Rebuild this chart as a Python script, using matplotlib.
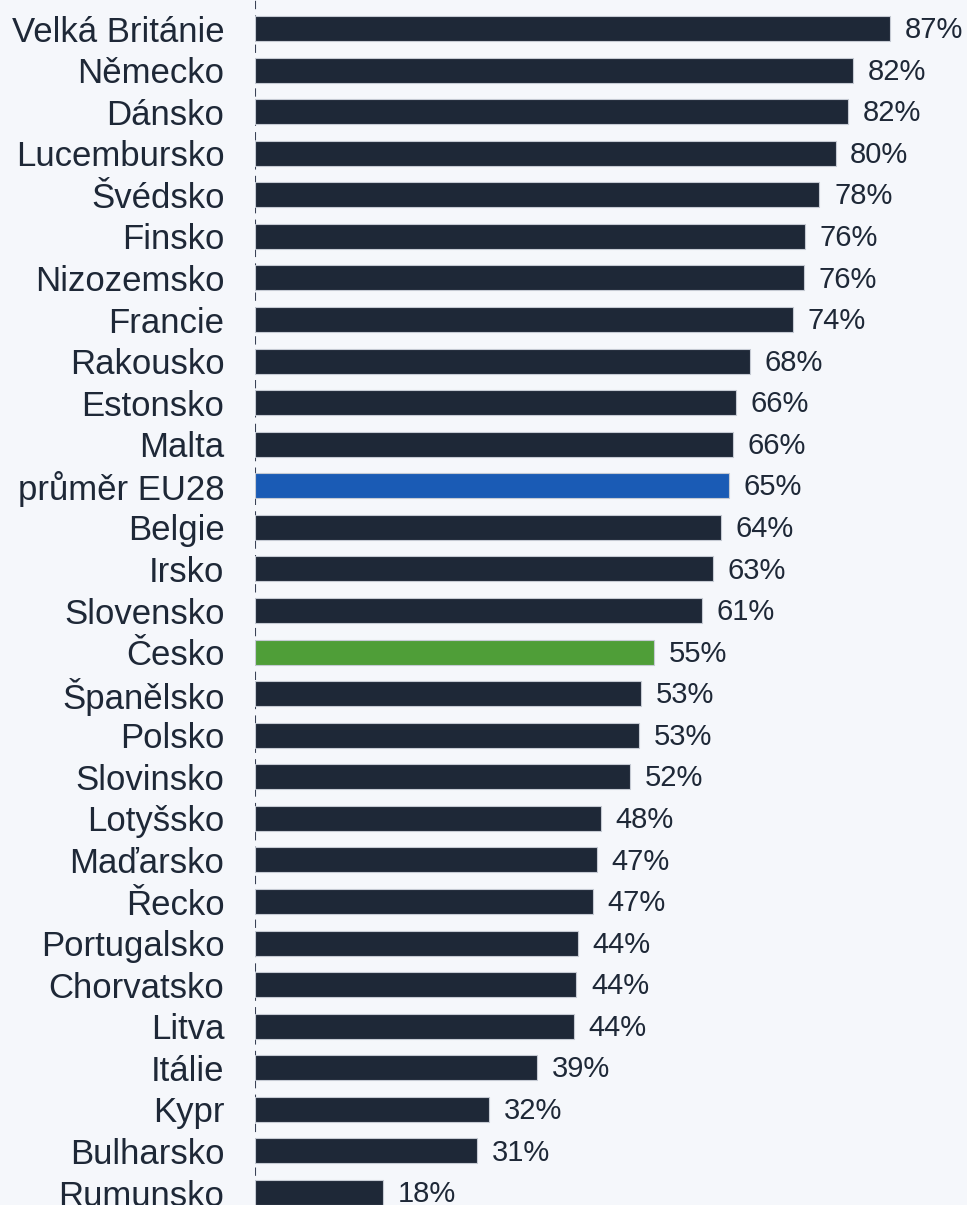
import matplotlib.pyplot as plt

plt.rcParams['font.family'] = ['Liberation Sans', 'DejaVu Sans']

countries = ["Velká Británie", "Německo", "Dánsko", "Lucembursko", "Švédsko",
             "Finsko", "Nizozemsko", "Francie", "Rakousko", "Estonsko", "Malta",
             "průměr EU28", "Belgie", "Irsko", "Slovensko", "Česko", "Španělsko",
             "Polsko", "Slovinsko", "Lotyšsko", "Maďarsko", "Řecko",
             "Portugalsko", "Chorvatsko", "Litva", "Itálie", "Kypr",
             "Bulharsko", "Rumunsko"]
values = [87.0, 81.9, 81.2, 79.5, 77.3, 75.3, 75.2, 73.7, 67.8, 65.8, 65.5,
          64.9, 63.8, 62.7, 61.2, 54.7, 52.9, 52.6, 51.4, 47.4, 46.8, 46.3,
          44.2, 44.0, 43.7, 38.6, 32.1, 30.4, 17.5]
labels = ["87%", "82%", "82%", "80%", "78%", "76%", "76%", "74%", "68%", "66%",
          "66%", "65%", "64%", "63%", "61%", "55%", "53%", "53%", "52%", "48%",
          "47%", "47%", "44%", "44%", "44%", "39%", "32%", "31%", "18%"]

bg = '#f5f7fb'
dark = '#1e2837'
colors = []
for c in countries:
    if c == "průměr EU28":
        colors.append('#1a5bb5')
    elif c == "Česko":
        colors.append('#4f9e38')
    else:
        colors.append(dark)

fig = plt.figure(figsize=(9.67, 12.05), dpi=100, facecolor=bg)
ax = fig.add_axes([255 / 967, 0, 1 - 255 / 967, 1])
ax.set_facecolor(bg)

y = list(range(len(countries)))
ax.barh(y, values, height=0.60, color=colors, edgecolor='#c5cad3', linewidth=0.8)

for yi, v, lab in zip(y, values, labels):
    ax.text(v + 2.0, yi + 0.04, lab, va='center', ha='left', fontsize=21, color=dark)

ax.set_xlim(0, 97.5)
ax.set_ylim(28.3, -0.686)
ax.set_yticks(y)
ax.set_yticklabels(countries, fontsize=25, color=dark)
ax.tick_params(axis='y', length=0, pad=22)
ax.set_xticks([])

for s in ['top', 'right', 'bottom', 'left']:
    ax.spines[s].set_visible(False)
ax.axvline(0, color='#3a4256', linewidth=1.5, linestyle=(0, (4, 3)), zorder=0)

fig.savefig("out.png", dpi=100, facecolor=bg)
